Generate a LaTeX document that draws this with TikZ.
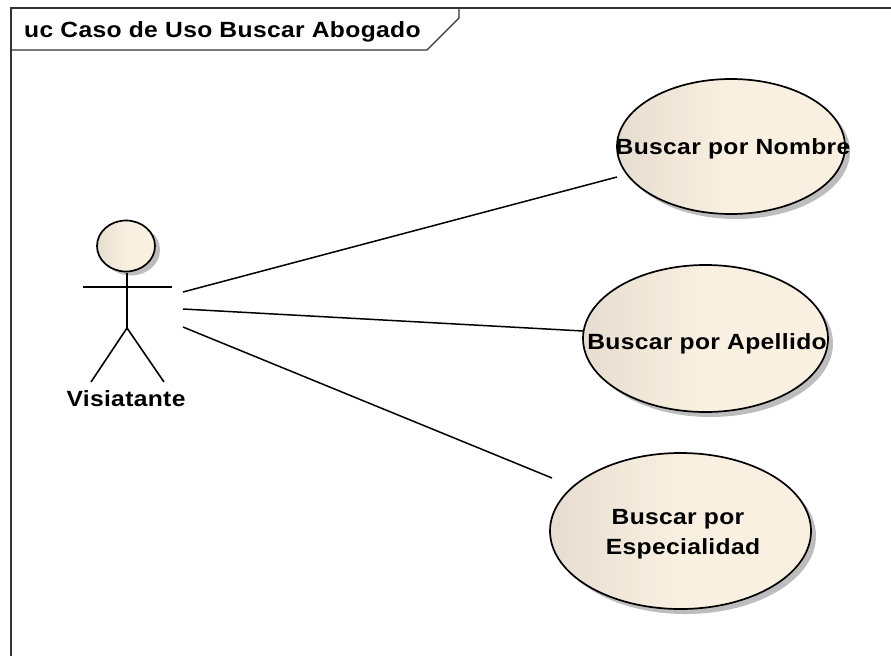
\documentclass[tikz,border=0pt]{standalone}
\usepackage{fontspec}
\setmainfont{Liberation Sans}[FakeStretch=1.12,LetterSpace=1.5]
\usetikzlibrary{calc,shapes.geometric}
\definecolor{ucleft}{HTML}{E6DDD0}
\definecolor{ucright}{HTML}{FAF0E2}
\definecolor{ucshadow}{HTML}{BDBDBD}
\tikzset{
  ucfill/.style={left color=ucleft,right color=ucright,middle color=ucright,shading angle=90},
  ucase/.style={ellipse,draw=black,line width=1.7pt,inner sep=0pt,outer sep=0pt,ucfill},
  ucshade/.style={ellipse,fill=ucshadow,draw=none,inner sep=0pt,outer sep=0pt},
  conn/.style={line width=1.5pt,black},
  stick/.style={line width=1.6pt,black},
  frameline/.style={line width=1.2pt,draw=black!80},
  lbl/.style={font=\bfseries\fontsize{22}{24}\selectfont,inner sep=0pt}
}
\begin{document}
\begin{tikzpicture}[x=1pt,y=-1pt]
\useasboundingbox (0,0) rectangle (891,656);
% frame
\coordinate (ftl) at (11,8);
\coordinate (ftr) at (891,8);
\coordinate (fbl) at (11,656);
\coordinate (tabr) at (459,8);
\coordinate (tabm) at (459,18);
\coordinate (tabb) at (427,50);
\coordinate (tabl) at (11,50);
\draw[frameline] (fbl) -- (ftl) -- (ftr);
\draw[frameline] (tabr) -- (tabm) -- (tabb) -- (tabl);
\node[lbl,anchor=west] (title) at (24,31.5) {uc Caso de Uso Buscar Abogado};
% shadows
\node[ucshade,minimum width=228pt,minimum height=135pt] (s1) at (736,151.5) {};
\node[ucshade,minimum width=245pt,minimum height=147pt] (s2) at (710.5,343.5) {};
\node[ucshade,minimum width=261pt,minimum height=156pt] (s3) at (685.5,536) {};
% use cases
\node[ucase,minimum width=228pt,minimum height=135pt] (uc1) at (731,146.5) {};
\node[lbl] (t1) at (733,148.5) {Buscar por Nombre};
\node[ucase,minimum width=245pt,minimum height=147pt] (uc2) at (705.5,338.5) {};
\node[lbl] (t2) at (707,343.5) {Buscar por Apellido};
\node[ucase,minimum width=261pt,minimum height=156pt] (uc3) at (680.5,531) {};
\node[lbl] (t3) at (678,519.5) {Buscar por};
\node[lbl] (t4) at (683,548.5) {Especialidad};
% actor
\node[ucshade,minimum width=58pt,minimum height=51pt] (hs) at (131,250) {};
\node[ucase,minimum width=58pt,minimum height=51pt] (head) at (126,246) {};
\coordinate (neck) at (127,273);
\coordinate (hip) at (127,328);
\coordinate (armL) at (83,287);
\coordinate (armR) at (172,287);
\coordinate (legL) at (91,382);
\coordinate (legR) at (164,382);
\draw[stick] (neck) -- (hip);
\draw[stick] (armL) -- (armR);
\draw[stick] (legL) -- (hip) -- (legR);
\node[lbl] (vis) at (126,399) {Visiatante};
\node[minimum width=113pt,minimum height=161pt,inner sep=0pt,outer sep=0pt] (actor) at (126.5,309) {};
% connectors
\draw[conn] ($(actor.east)+(0,-17)$) -- ($(uc1.west)+(0,30.5)$);
\draw[conn] (actor.east) -- ($(uc2.west)+(0,-7.5)$);
\draw[conn] ($(actor.east)+(0,18)$) -- ($(uc3.west)+(2,-53)$);
\end{tikzpicture}
\end{document}
